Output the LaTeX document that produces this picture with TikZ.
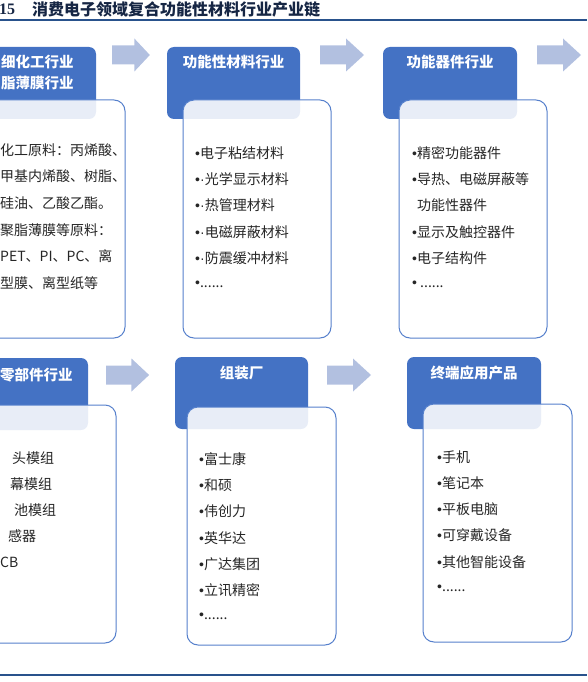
\documentclass[tikz,border=0pt]{standalone}
\usepackage{fontspec}
\setmainfont{Noto Sans CJK SC}
\newfontfamily\numfont{Liberation Serif}
\newfontfamily\bulfont{Liberation Sans}
\usetikzlibrary{positioning}
\definecolor{hdrblue}{RGB}{68,114,196}
\definecolor{cardline}{RGB}{86,128,204}
\definecolor{arrowfill}{RGB}{178,192,224}
\definecolor{rulenavy}{RGB}{41,82,140}
\definecolor{titlenavy}{RGB}{22,38,68}
\definecolor{bodytext}{RGB}{38,38,38}
\newcommand\sixdots{......}
\newcommand\bul{{\bulfont •}}
\newcommand\mdot{{\bulfont ·}}

\begin{document}
\begin{tikzpicture}[x=1pt, y=-1pt, line join=round,
    hdr/.style={fill=hdrblue, rounded corners=7pt},
    card/.style={draw=cardline, line width=1pt, fill=white, fill opacity=0.88, rounded corners=11pt},
    hdrtext/.style={text=white, font=\fontsize{14.5}{17}\selectfont\bfseries, inner sep=0pt},
    item/.style={text=bodytext, font=\fontsize{14}{17}\selectfont, anchor=west, inner sep=0pt},
    blockarrow/.pic={\fill[arrowfill] (0,-9.5) -- (26,-9.5) -- (26,-16.5) -- (44,0) -- (26,16.5) -- (26,9.5) -- (0,9.5) -- cycle;}]
    \useasboundingbox (0,0) rectangle (587,682);
    \clip (0,0) rectangle (587,682);

    % caption and rules
    \node[anchor=west, inner sep=0pt, text=titlenavy, font=\numfont\fontsize{16}{18}\selectfont\bfseries] (fignum) at (-1,9) {15};
    \node[anchor=west, inner sep=0pt, text=titlenavy, font=\fontsize{16}{18}\selectfont\bfseries] (figtitle) at (32,9) {消费电子领域复合功能性材料行业产业链};
    \draw[rulenavy, line width=2pt] (0,20) -- (587,20);
    \draw[rulenavy, line width=2pt] (0,675) -- (587,675);

    % header tabs and cards, top row then bottom row
    \foreach \hl/\hr/\hy/\cl/\cr/\cy in {-12/96/47/-12/125/100, 167/300/47/183/331/100, 383/517/47/399/547/100,
                                         -12/88/358/-12/116/405, 175/308/357/187/336/407, 407/541/357/423/572/404}
    {
        \fill[hdr] (\hl,\hy) rectangle (\hr,{\hy+72});
        \draw[card] (\cl,\cy) rectangle (\cr,{\cy+238});
    }

    % flow arrows
    \pic[xscale=0.86] at (112,55) {blockarrow};
    \pic at (320,55) {blockarrow};
    \pic at (537,55) {blockarrow};
    \pic[xscale=0.98] at (106,375) {blockarrow};
    \pic at (327,375) {blockarrow};

    % tab titles
    \node[hdrtext, anchor=west] (h1a) at (1,62) {细化工行业};
    \node[hdrtext, anchor=west] (h1b) at (1,83) {脂薄膜行业};
    \node[hdrtext] (h2) at (233.5,62) {功能性材料行业};
    \node[hdrtext] (h3) at (450,62) {功能器件行业};
    \node[hdrtext, anchor=west] (h4) at (0,375) {零部件行业};
    \node[hdrtext] (h5) at (241.5,373) {组装厂};
    \node[hdrtext] (h6) at (474,373) {终端应用产品};

    % card lists
    \foreach \txt [count=\i] in {化工原料：丙烯酸、, 甲基内烯酸、树脂、, 硅油、乙酸乙酯。,
                                 聚脂薄膜等原料：, PET、PI、PC、离, 型膜、离型纸等}
        \node[item] (b1i\i) at (0,{150+26.6*(\i-1)}) {\txt};
    \foreach \txt [count=\i] in {\bul{}电子粘结材料, \bul\mdot{}光学显示材料, \bul\mdot{}热管理材料, \bul\mdot{}电磁屏蔽材料, \bul\mdot{}防震缓冲材料, \bul\sixdots}
        \node[item] (b2i\i) at (195,{153+26.3*(\i-1)}) {\txt};
    \foreach \txt [count=\i] in {\bul{}精密功能器件, \bul{}导热、电磁屏蔽等, \phantom{\bul}功能性器件, \bul{}显示及触控器件, \bul{}电子结构件, \bul{} \sixdots}
        \node[item] (b3i\i) at (412,{153+26.3*(\i-1)}) {\txt};
    \foreach \dx/\txt [count=\i] in {12/头模组, 10/幕模组, 14/池模组, 8/感器, 0/CB}
        \node[item] (b4i\i) at ({\dx},{458+26.2*(\i-1)}) {\txt};
    \foreach \txt [count=\i] in {\bul{}富士康, \bul{}和硕, \bul{}伟创力, \bul{}英华达, \bul{}广达集团, \bul{}立讯精密, \bul\sixdots}
        \node[item] (b5i\i) at (199,{459+26.3*(\i-1)}) {\txt};
    \foreach \txt [count=\i] in {\bul{}手机, \bul{}笔记本, \bul{}平板电脑, \bul{}可穿戴设备, \bul{}其他智能设备, \bul\sixdots}
        \node[item] (b6i\i) at (437,{457+26.2*(\i-1)}) {\txt};
\end{tikzpicture}
\end{document}
